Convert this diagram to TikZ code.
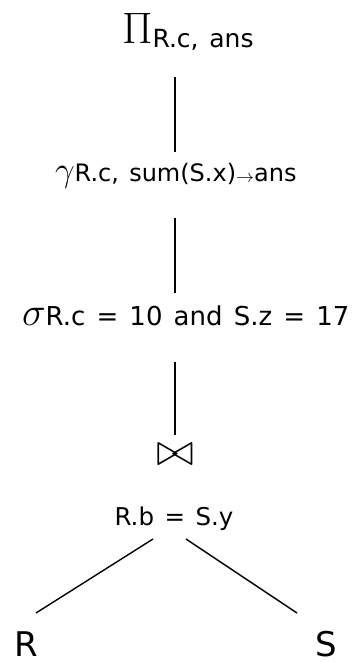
\RequirePackage{fix-cm}
\documentclass[tikz,border=0pt]{standalone}
\usepackage{fontspec}
\setmainfont[WordSpace=1.35]{DejaVu Sans}
\newfontfamily\plainsans{DejaVu Sans}
\usetikzlibrary{calc}
\newcommand\fs[1]{\fontsize{#1}{#1}\selectfont}
\begin{document}
\begin{tikzpicture}[x=1pt,y=-1pt,
  every node/.style={inner sep=0pt,outer sep=0pt},
  edge/.style={line width=1.4pt}]
\useasboundingbox (0,0) rectangle (354,662);
\node[anchor=base west] (proj) at (122,43) {\fs{44}$\Pi$\raisebox{-4pt}{\fs{25}R.c, ans}};
\node[anchor=base west] (grp) at (55,181) {\fs{35}$\gamma$\fs{24}R.c, sum(S.x)\raisebox{-1pt}{\fs{18}$\rightarrow$}ans};
\node[anchor=base west] (sel) at (22,325) {\fs{40}$\sigma$\fs{26}R.c = 10 and S.z = 17};
\node (join) at (175,455) {\fs{46}$\bowtie$};
\node[anchor=base] (cond) at (174,525) {\fs{24.5}R.b = S.y};
\node[anchor=base] (R) at (26,656) {\plainsans\fs{34}R};
\node[anchor=base] (S) at (326,656) {\plainsans\fs{34}S};
\draw[edge] ($(proj.base -| join)+(0,34)$) -- ($(grp.base -| join)+(0,-29)$);
\draw[edge] ($(grp.base -| join)+(0,37)$) -- ($(sel.base -| join)+(0,-32)$);
\draw[edge] ($(sel.base -| join)+(0,37)$) -- ($(join.center)+(0,-20)$);
\draw[edge] ($(cond.base)+(-21,14)$) -- ($(R.base)+(10,-43)$);
\draw[edge] ($(cond.base)+(12,14)$) -- ($(S.base)+(-29,-43)$);
\end{tikzpicture}
\end{document}
